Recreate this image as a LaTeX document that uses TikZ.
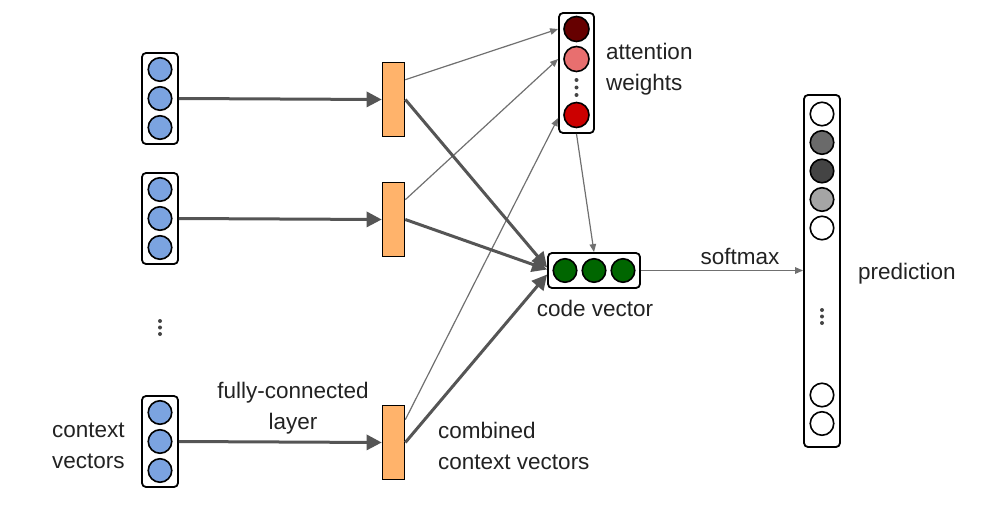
\documentclass[tikz,border=0pt]{standalone}
\usepackage{fontspec}
\setmainfont{Liberation Sans}
\usetikzlibrary{arrows.meta}
\definecolor{cblue}{HTML}{7BA3E0}
\definecolor{corange}{HTML}{FFB36B}
\definecolor{cdred}{HTML}{660000}
\definecolor{cpink}{HTML}{E86F6F}
\definecolor{cred}{HTML}{CC0000}
\definecolor{cgreen}{HTML}{006600}
\definecolor{cg1}{HTML}{6A6A6A}
\definecolor{cg2}{HTML}{444444}
\definecolor{cg3}{HTML}{A5A5A5}
\definecolor{thickc}{HTML}{555555}
\definecolor{thinc}{HTML}{707070}
\definecolor{txt}{HTML}{222222}
\begin{document}
\begin{tikzpicture}[x=1pt,y=-1pt,
  vecbox/.style={draw=black, rounded corners=4pt, line width=1.8pt, inner sep=0pt},
  unit/.style={circle, draw=black, line width=1.6pt, minimum size=23.5pt, inner sep=0pt},
  fcbox/.style={draw=black, fill=corange, line width=1.6pt, minimum width=22pt, minimum height=74pt, inner sep=0pt},
  thickarrow/.style={draw=thickc, line width=3pt, -{Triangle[length=15pt,width=15pt]}},
  thinarrow/.style={draw=thinc, line width=1.2pt, -{Triangle[length=8pt,width=6.5pt]}},
  lbl/.style={text=txt, font=\fontsize{22.5}{31}\selectfont, align=center, inner sep=0pt},
  dotc/.style={fill=cg2, draw=none}]
\useasboundingbox (0,0) rectangle (1006,514);

% context vector boxes
\node[vecbox, minimum width=36pt, minimum height=91pt] (c1) at (160,98.5) {};
\node[vecbox, minimum width=36pt, minimum height=91pt] (c2) at (160,218.5) {};
\node[vecbox, minimum width=36pt, minimum height=91pt] (c3) at (160,441.5) {};
\foreach \b/\y in {1/98.5,2/218.5,3/441.5}{
  \node[unit, fill=cblue] (c\b a) at (160,\y-29) {};
  \node[unit, fill=cblue] (c\b b) at (160,\y) {};
  \node[unit, fill=cblue] (c\b c) at (160,\y+29) {};
}
\foreach \y in {321,327.5,334} \fill[dotc] (160,\y) circle (2pt);

% fully-connected outputs
\node[fcbox] (o1) at (393.5,99.5) {};
\node[fcbox] (o2) at (393.5,219.5) {};
\node[fcbox] (o3) at (393.5,442.5) {};

% attention weights
\node[vecbox, minimum width=35pt, minimum height=120pt] (att) at (576.5,73) {};
\node[unit, minimum size=25pt, fill=cdred] (a1) at (576.5,29) {};
\node[unit, minimum size=25pt, fill=cpink] (a2) at (576.5,59) {};
\node[unit, minimum size=25pt, fill=cred] (a3) at (576.5,115) {};
\foreach \y in {80,87.5,95} \fill[dotc] (576.5,\y) circle (2pt);

% code vector
\node[vecbox, minimum width=92pt, minimum height=35pt] (code) at (594,270.5) {};
\node[unit, fill=cgreen] (g1) at (565,270.5) {};
\node[unit, fill=cgreen] (g2) at (594,270.5) {};
\node[unit, fill=cgreen] (g3) at (623,270.5) {};

% prediction
\node[vecbox, minimum width=36pt, minimum height=352pt] (pred) at (822,271) {};
\node[unit, fill=white] (p1) at (822,114) {};
\node[unit, fill=cg1] (p2) at (822,142.5) {};
\node[unit, fill=cg2] (p3) at (822,171) {};
\node[unit, fill=cg3] (p4) at (822,199.5) {};
\node[unit, fill=white] (p5) at (822,228) {};
\node[unit, fill=white] (p6) at (822,395) {};
\node[unit, fill=white] (p7) at (822,423.5) {};
\foreach \y in {310,316.5,323} \fill[dotc] (822,\y) circle (2pt);

% connectors
\draw[thickarrow] (c1.east |- c1b) -- (o1.west);
\draw[thickarrow] (c2.east |- c2b) -- (o2.west);
\draw[thickarrow] (c3.east |- c3b) -- (o3.west);

\draw[thinarrow] ([yshift=-18pt]o1.north east) -- (att.west |- a1);
\draw[thinarrow] ([yshift=-18pt]o2.north east) -- (att.west |- a2);
\draw[thinarrow] ([yshift=-15pt]o3.north east) -- ([yshift=-3pt]att.west |- a3);

\draw[thickarrow] (o1.east) -- ([yshift=3pt]code.west);
\draw[thickarrow] (o2.east) -- ([yshift=1pt]code.west);
\draw[thickarrow] (o3.east) -- ([yshift=-4pt]code.west);

\draw[thinarrow] (att.south) -- (code.north);
\draw[thinarrow] (code.east) -- (code.east -| pred.west);

% labels
\node[lbl, anchor=west, align=left] (lat) at (606,69) {attention\\weights};
\node[lbl] (lcode) at (595,308) {code vector};
\node[lbl] (lsoft) at (740,256) {softmax};
\node[lbl, anchor=west] (lpred) at (858,274) {prediction};
\node[lbl] (lfc) at (293,408) {fully-connected\\layer};
\node[lbl, anchor=west, align=left] (lctx) at (52,446) {context\\vectors};
\node[lbl, anchor=west, align=left] (lcomb) at (438,446) {combined\\context vectors};
\end{tikzpicture}
\end{document}
